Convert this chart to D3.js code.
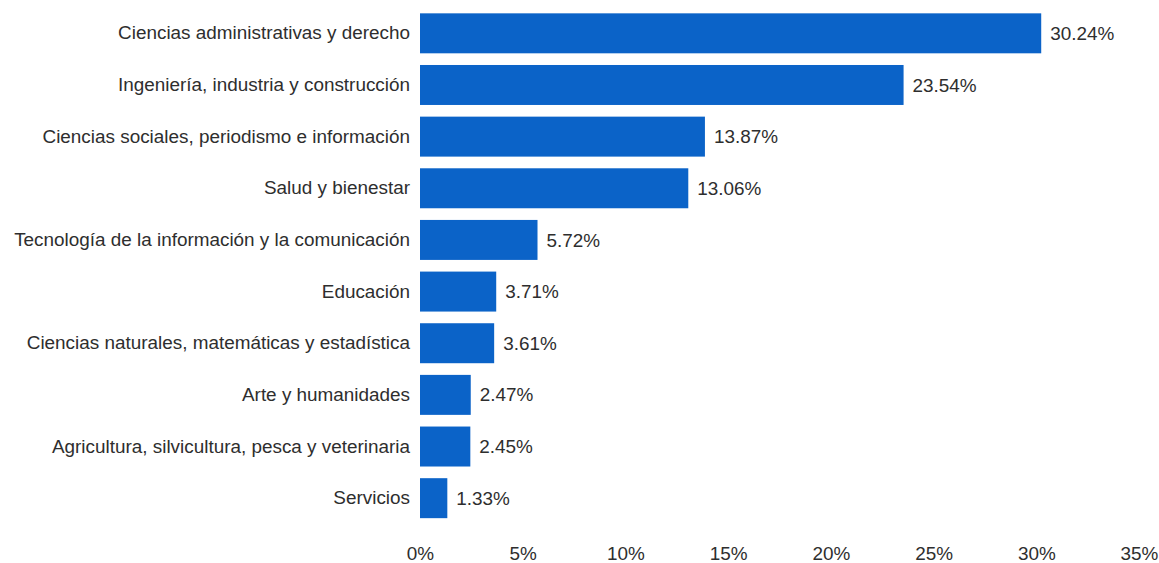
<!DOCTYPE html>
<html>
<head>
<meta charset="utf-8">
<script src="https://cdn.jsdelivr.net/npm/d3@7"></script>
<style>
  html, body { margin: 0; padding: 0; background: #fff; }
  svg { display: block; }
  text { font-family: "Liberation Sans", Arial, sans-serif; fill: #2e2e2e; }
</style>
</head>
<body>
<svg id="chart" width="1159" height="563"></svg>
<script>
// Share of graduates by field of study (%)
const categories = [
  "Ciencias administrativas y derecho",
  "Ingeniería, industria y construcción",
  "Ciencias sociales, periodismo e información",
  "Salud y bienestar",
  "Tecnología de la información y la comunicación",
  "Educación",
  "Ciencias naturales, matemáticas y estadística",
  "Arte y humanidades",
  "Agricultura, silvicultura, pesca y veterinaria",
  "Servicios"
];
const values = [30.24, 23.54, 13.87, 13.06, 5.72, 3.71, 3.61, 2.47, 2.45, 1.33];
const tickValues = [0, 5, 10, 15, 20, 25, 30, 35];

const svg = d3.select("#chart");
const fontSize = 18.9;
const barColor = "#0b63c8";

const x = d3.scaleLinear().domain([0, 35]).range([420, 1139]);
const y = d3.scaleBand().domain(categories).range([7.5, 524]).paddingInner(0.226).paddingOuter(0.113);

// Bars
svg.append("g").selectAll("rect")
  .data(categories)
  .join("rect")
  .attr("x", x(0))
  .attr("y", d => y(d))
  .attr("width", (d, i) => x(values[i]) - x(0))
  .attr("height", y.bandwidth())
  .attr("fill", barColor);

// Value labels
svg.append("g").selectAll("text")
  .data(categories)
  .join("text")
  .attr("x", (d, i) => x(values[i]) + 9)
  .attr("y", d => y(d) + y.bandwidth() / 2)
  .attr("dy", "0.35em")
  .attr("font-size", fontSize)
  .text((d, i) => values[i].toFixed(2) + "%");

// Category axis (no line, no ticks)
const yAxis = svg.append("g")
  .attr("transform", `translate(${x(0)},0)`)
  .call(d3.axisLeft(y).tickSize(0).tickPadding(10));
yAxis.select(".domain").remove();
yAxis.selectAll("text")
  .attr("font-size", fontSize)
  .attr("font-family", null)
  .attr("fill", null);

// Percent axis (labels only)
const xAxis = svg.append("g")
  .attr("transform", "translate(0,547)")
  .call(d3.axisBottom(x).tickValues(tickValues).tickFormat(d => d + "%").tickSize(0).tickPadding(0));
xAxis.select(".domain").remove();
xAxis.selectAll("text")
  .attr("font-size", fontSize)
  .attr("font-family", null)
  .attr("fill", null)
  .attr("dy", "0.71em");
</script>
</body>
</html>
